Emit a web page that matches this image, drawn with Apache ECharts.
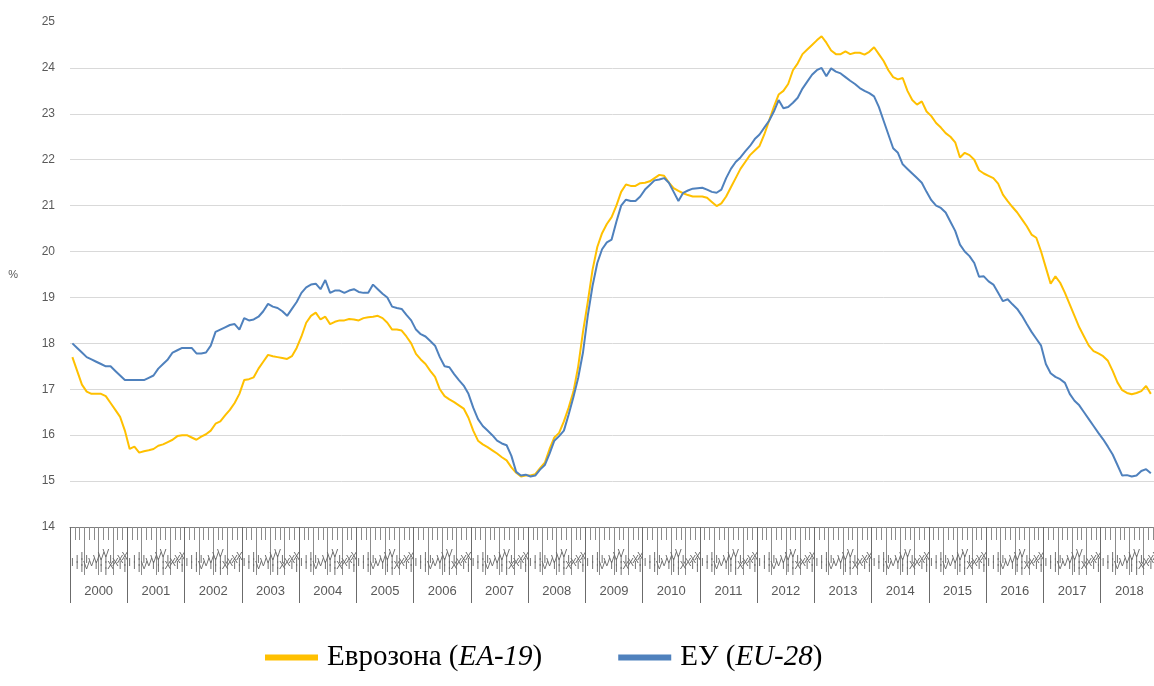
<!DOCTYPE html>
<html>
<head>
<meta charset="utf-8">
<script src="https://cdn.jsdelivr.net/npm/echarts@6/dist/echarts.min.js"></script>
<style>
html,body{margin:0;padding:0;background:#fff;}
#chart{width:1154px;height:686px;}
</style>
</head>
<body>
<div id="chart"></div>
<script>
// ---- data ----
const monthLabels = ['I','II','III','IV','V','VI','VII','VIII','IX','X','XI','XII'];
const yearLabels = ['2000','2001','2002','2003','2004','2005','2006','2007','2008','2009','2010','2011','2012','2013','2014','2015','2016','2017','2018'];
const quarterLabels = ['1','2','3','4'];

const seriesNames = ['Еврозона (EA-19)', 'ЕУ (EU-28)'];

// Euro area (EA-19), monthly from Jan 2000
const eaValues = [
  17.7, 17.4, 17.1, 16.95, 16.9, 16.9, 16.9, 16.85, 16.7, 16.55, 16.4, 16.1,
  15.7, 15.75, 15.62, 15.65, 15.67, 15.7, 15.77, 15.8, 15.85, 15.9, 15.98, 16.0,
  16.0, 15.95, 15.9, 15.97, 16.02, 16.1, 16.25, 16.3, 16.43, 16.55, 16.7, 16.9,
  17.2, 17.22, 17.26, 17.45, 17.6, 17.75, 17.72, 17.7, 17.68, 17.66, 17.72, 17.9,
  18.15, 18.45, 18.6, 18.67, 18.52, 18.58, 18.42, 18.47, 18.5, 18.5, 18.53, 18.52,
  18.5, 18.55, 18.57, 18.58, 18.6, 18.55, 18.45, 18.3, 18.3, 18.28, 18.15, 18.0,
  17.77, 17.65, 17.55, 17.4, 17.27, 17.0, 16.85, 16.78, 16.72, 16.65, 16.58, 16.38,
  16.1, 15.88, 15.8, 15.74, 15.67, 15.6, 15.52, 15.45, 15.3, 15.18, 15.1, 15.12,
  15.12, 15.15, 15.28, 15.4, 15.7, 15.95, 16.05, 16.3, 16.6, 16.95, 17.5, 18.25,
  18.9, 19.6, 20.1, 20.4, 20.6, 20.75, 21.0, 21.3, 21.46, 21.43, 21.43, 21.49,
  21.5, 21.53, 21.6, 21.67, 21.65, 21.5, 21.38, 21.32, 21.27, 21.23, 21.2, 21.2,
  21.2, 21.17, 21.08, 20.99, 21.05, 21.2, 21.4, 21.6, 21.8, 21.95, 22.1, 22.2,
  22.3, 22.55, 22.85, 23.15, 23.42, 23.5, 23.65, 23.95, 24.1, 24.3, 24.4, 24.5,
  24.6, 24.69, 24.55, 24.38, 24.3, 24.3, 24.36, 24.3, 24.33, 24.33, 24.29, 24.35,
  24.45, 24.3, 24.15, 23.95, 23.8, 23.75, 23.78, 23.5, 23.3, 23.2, 23.27, 23.05,
  22.95, 22.8, 22.7, 22.58, 22.5, 22.38, 22.05, 22.15, 22.1, 22.0, 21.77, 21.7,
  21.65, 21.6, 21.48, 21.24, 21.1, 20.97, 20.85, 20.7, 20.55, 20.37, 20.3, 20.0,
  19.65, 19.3, 19.46, 19.32, 19.1, 18.85, 18.6, 18.35, 18.15, 17.95, 17.83, 17.78,
  17.72, 17.62, 17.4, 17.15, 16.98, 16.92, 16.89, 16.92, 16.96, 17.07, 16.9
];

// EU (EU-28), monthly from Jan 2000
const euValues = [
  18.0, 17.9, 17.8, 17.7, 17.65, 17.6, 17.55, 17.5, 17.5, 17.4, 17.3, 17.2,
  17.2, 17.2, 17.2, 17.2, 17.25, 17.3, 17.45, 17.55, 17.65, 17.8, 17.85, 17.9,
  17.9, 17.9, 17.78, 17.78, 17.8, 17.95, 18.25, 18.3, 18.35, 18.4, 18.42, 18.3,
  18.55, 18.5, 18.52, 18.58, 18.7, 18.86, 18.8, 18.77, 18.7, 18.6, 18.75, 18.9,
  19.1, 19.22, 19.28, 19.3, 19.18, 19.38, 19.1, 19.15, 19.15, 19.1, 19.15, 19.18,
  19.12, 19.1, 19.1, 19.28, 19.18, 19.08, 19.0, 18.8, 18.77, 18.75, 18.62, 18.5,
  18.3, 18.2, 18.15, 18.05, 17.95, 17.7, 17.5, 17.48, 17.33, 17.2, 17.08, 16.9,
  16.6, 16.35, 16.2, 16.1, 16.0, 15.88, 15.82, 15.78, 15.55, 15.2, 15.12, 15.14,
  15.1, 15.12, 15.25, 15.35, 15.6, 15.88, 15.98, 16.1, 16.45, 16.83, 17.25, 17.8,
  18.6, 19.25, 19.75, 20.05, 20.2, 20.26, 20.65, 21.0, 21.13, 21.1, 21.1, 21.2,
  21.35, 21.45, 21.55, 21.57, 21.6, 21.5, 21.3, 21.1, 21.28, 21.33, 21.37, 21.38,
  21.39, 21.35, 21.3, 21.28, 21.35, 21.6, 21.8, 21.95, 22.05, 22.18, 22.3, 22.45,
  22.55, 22.7, 22.85, 23.05, 23.3, 23.12, 23.15, 23.24, 23.35, 23.55, 23.7, 23.85,
  23.95, 24.0, 23.82, 23.99, 23.92, 23.88, 23.8, 23.72, 23.65, 23.56, 23.5, 23.45,
  23.38, 23.15, 22.85, 22.55, 22.25, 22.15, 21.9, 21.8, 21.7, 21.6, 21.5, 21.3,
  21.12, 21.0, 20.95, 20.85, 20.65, 20.45, 20.15, 20.0, 19.9, 19.75, 19.45, 19.46,
  19.35, 19.28, 19.1, 18.92, 18.96, 18.85, 18.75, 18.6, 18.42, 18.25, 18.1, 17.95,
  17.55, 17.35, 17.27, 17.22, 17.14, 16.9, 16.75, 16.65, 16.5, 16.35, 16.2, 16.05,
  15.91, 15.75, 15.58, 15.35, 15.12, 15.13, 15.1, 15.12, 15.22, 15.26, 15.17
];

const yTicks = { min: 14, max: 25, interval: 1 };

// ---- derived categories ----
const monthCats = [];
yearLabels.forEach(y => monthLabels.forEach(m => monthCats.push(y + '|' + m)));
const quarterCats = [];
yearLabels.forEach(y => quarterLabels.forEach(q => quarterCats.push(y + 'Q' + q)));

const axisGray = '#8c8c8c';
const textGray = '#595959';

const chart = echarts.init(document.getElementById('chart'), null, { renderer: 'canvas' });
chart.setOption({
  animation: false,
  backgroundColor: '#ffffff',
  grid: { left: 70, width: 1088, top: 22, bottom: 159, containLabel: false, outerBoundsMode: 'none' },
  legend: {
    left: 265,
    top: 643,
    padding: 0,
    icon: 'rect',
    itemWidth: 53,
    itemHeight: 6,
    itemGap: 76,
    data: seriesNames,
    formatter: function (name) {
      if (name === seriesNames[0]) return 'Еврозона ({i|EA-19})';
      return 'ЕУ ({i|EU-28})';
    },
    textStyle: {
      fontFamily: 'Liberation Serif',
      fontSize: 29,
      color: '#000',
      padding: [0, 0, 0, 4],
      rich: {
        i: { fontFamily: 'Liberation Serif', fontSize: 29, fontStyle: 'italic', color: '#000' }
      }
    }
  },
  xAxis: [
    {
      type: 'category',
      data: monthCats,
      boundaryGap: true,
      axisLine: { show: true, lineStyle: { color: '#7f7f7f', width: 1 } },
      axisTick: { show: true, interval: 0, length: 13, lineStyle: { color: axisGray } },
      axisLabel: {
        show: true,
        interval: 0,
        hideOverlap: false,
        margin: 36,
        verticalAlign: 'middle',
        fontFamily: 'Liberation Sans',
        fontSize: 10,
        lineHeight: 6,
        color: '#6b6b6b',
        formatter: function (v) { return v.split('|')[1].split('').join('\n'); }
      },
      splitLine: { show: false }
    },
    {
      type: 'category',
      data: quarterCats,
      boundaryGap: true,
      position: 'bottom',
      axisLine: { show: false },
      axisTick: { show: true, interval: 0, length: 48, lineStyle: { color: axisGray } },
      axisLabel: { show: false },
      splitLine: { show: false }
    },
    {
      type: 'category',
      data: yearLabels,
      boundaryGap: true,
      position: 'bottom',
      axisLine: { show: false },
      axisTick: { show: true, interval: 0, length: 76, lineStyle: { color: '#6b6b6b' } },
      axisLabel: {
        show: true, interval: 0, margin: 58,
        fontFamily: 'Liberation Sans', fontSize: 13, color: textGray
      },
      splitLine: { show: false }
    }
  ],
  yAxis: {
    type: 'value',
    min: yTicks.min,
    max: yTicks.max,
    interval: yTicks.interval,
    name: '%',
    nameLocation: 'middle',
    nameRotate: 0,
    nameGap: 52,
    nameTextStyle: { fontFamily: 'Liberation Sans', fontSize: 11, color: textGray },
    axisLine: { show: false },
    axisTick: { show: false },
    axisLabel: { margin: 15, fontFamily: 'Liberation Sans', fontSize: 12, color: textGray },
    splitLine: { show: true, showMaxLine: false, lineStyle: { color: '#d9d9d9', width: 1 } }
  },
  series: [
    {
      name: seriesNames[0],
      type: 'line',
      xAxisIndex: 0,
      data: eaValues,
      symbol: 'none',
      lineStyle: { color: '#FFC000', width: 2 },
      itemStyle: { color: '#FFC000' }
    },
    {
      name: seriesNames[1],
      type: 'line',
      xAxisIndex: 0,
      data: euValues,
      symbol: 'none',
      lineStyle: { color: '#4F81BD', width: 2 },
      itemStyle: { color: '#4F81BD' }
    }
  ]
});
</script>
</body>
</html>
